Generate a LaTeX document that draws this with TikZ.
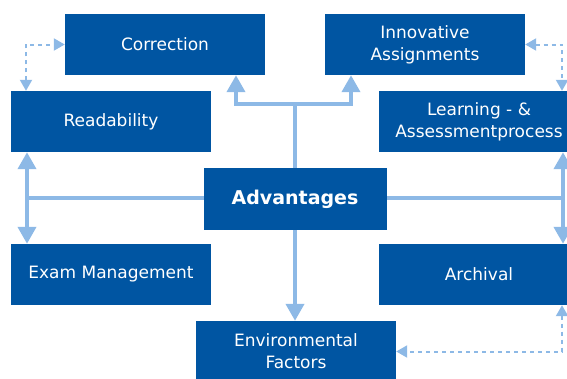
\documentclass[tikz,border=0pt]{standalone}
\usepackage{fontspec}
\setmainfont{DejaVu Sans}
\usetikzlibrary{arrows.meta}
\definecolor{boxblue}{HTML}{0055A2}
\definecolor{arrblue}{HTML}{8DB9E6}
\tikzset{
  box/.style={rectangle, fill=boxblue, text=white, minimum width=200pt, minimum height=61pt,
    inner sep=0pt, align=center, font=\fontsize{17}{21.7}\selectfont},
  arr/.style={draw=arrblue, line width=4pt, -{Triangle[width=18pt,length=17pt]}},
  darr/.style={draw=arrblue, line width=2pt, dash pattern=on 4pt off 4pt,
    {Triangle[width=12pt,length=11pt]}-{Triangle[width=12pt,length=11pt]}},
}
\begin{document}
\begin{tikzpicture}[x=1pt,y=-1pt]
\useasboundingbox (0,0) rectangle (567,378);
\clip (0,0) rectangle (567,378);
\node[box] (corr) at (165,44.5) {Correction};
\node[box] (innov) at (425,44.5) {Innovative\\Assignments};
\node[box] (read) at (111,121.5) {Readability};
\node[box] (learn) at (479,121.5) {Learning - \&\\Assessmentprocess};
\node[box] (exam) at (111,274.5) {Exam Management};
\node[box] (arch) at (479,274.5) {Archival};
\node[box] (env) at (296,351.5) {Environmental\\Factors};
\coordinate (advtop) at (295,168);
\coordinate (advc) at (295,198);
\draw[arr] (advtop) -- ++(0,-64) -| ([xshift=71pt]corr.south);
\draw[arr] (advtop) -- ++(0,-64) -| ([xshift=-74pt]innov.south);
\draw[arr] (advc) -| ([xshift=-84pt]read.south);
\draw[arr] (advc) -| ([xshift=-84pt]exam.north);
\draw[arr] (advc) -| ([xshift=84pt]learn.south);
\draw[arr] (advc) -| ([xshift=84pt]arch.north);
\draw[arr] (advc) -- (advc |- env.north);
\node[box, minimum width=183pt, minimum height=62pt, font=\fontsize{19}{23}\selectfont\bfseries] (adv) at (295,199) {Advantages};
\draw[darr] ([xshift=-85pt]read.north) |- (corr.west);
\draw[darr] (innov.east) -| ([xshift=83pt]learn.north);
\draw[darr] ([xshift=83pt]arch.south) |- (env.east);
\end{tikzpicture}
\end{document}
